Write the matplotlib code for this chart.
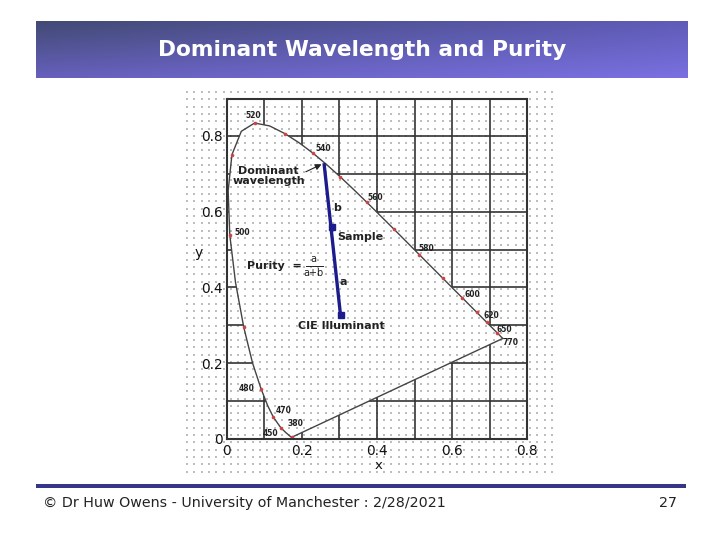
import numpy as np
import matplotlib
matplotlib.use('Agg')
import matplotlib.pyplot as plt
from matplotlib.colors import to_rgb
from matplotlib.patches import Polygon

# ---------------- data ----------------
# CIE 1931 spectral locus as drawn (wavelength nm, x, y)
locus_nm = [380, 420, 440, 450, 460, 470, 475, 480, 485, 490, 495, 500, 505,
            510, 515, 520, 525, 530, 535, 540, 545, 550, 555, 560, 565, 570,
            575, 580, 585, 590, 595, 600, 610, 620, 630, 640, 650, 700]
locus_x = [0.1741, 0.1714, 0.1644, 0.1566, 0.1440, 0.1241, 0.1096, 0.0913,
           0.0687, 0.0454, 0.0235, 0.0082, 0.0039, 0.0139, 0.0389, 0.0743,
           0.1142, 0.1547, 0.1929, 0.2296, 0.2658, 0.3016, 0.3373, 0.3731,
           0.4087, 0.4441, 0.4788, 0.5125, 0.5448, 0.5752, 0.6029, 0.6270,
           0.6658, 0.6915, 0.7079, 0.7190, 0.7260, 0.7347]
locus_y = [0.0050, 0.0051, 0.0109, 0.0177, 0.0297, 0.0578, 0.0868, 0.1327,
           0.2007, 0.2950, 0.4127, 0.5384, 0.6548, 0.7502, 0.8120, 0.8338,
           0.8262, 0.8059, 0.7816, 0.7543, 0.7243, 0.6923, 0.6589, 0.6245,
           0.5896, 0.5547, 0.5202, 0.4866, 0.4544, 0.4242, 0.3965, 0.3725,
           0.3340, 0.3083, 0.2920, 0.2809, 0.2740, 0.2653]

# wavelengths carrying a small red tick mark
tick_nm = [380, 460, 470, 480, 490, 500, 510, 520, 530, 540, 550, 560, 570,
           580, 590, 600, 610, 620, 640]

# wavelength labels and where they sit
wl_labels = ['520', '540', '560', '580', '600', '620', '650', '770',
             '500', '480', '470', '450', '380']
wl_x = [0.071, 0.258, 0.395, 0.531, 0.655, 0.705, 0.740, 0.756,
        0.042, 0.053, 0.151, 0.116, 0.182]
wl_y = [0.853, 0.767, 0.637, 0.502, 0.381, 0.325, 0.290, 0.255,
        0.544, 0.132, 0.074, 0.015, 0.041]

# dominant wavelength point, sample, illuminant
dom_xy = (0.259, 0.728)
sample_xy = (0.279, 0.559)
illum_xy = (0.303, 0.326)

x_ticks = [0, 0.2, 0.4, 0.6, 0.8]
x_tick_labels = ['0', '0.2', '0.4', '0.6', '0.8']
y_ticks = [0, 0.2, 0.4, 0.6, 0.8]
y_tick_labels = ['0', '0.2', '0.4', '0.6', '0.8']
grid_vals_x = [0.1, 0.2, 0.3, 0.4, 0.5, 0.6, 0.7]
grid_vals_y = [0.1, 0.2, 0.3, 0.4, 0.5, 0.6, 0.7, 0.8]

title = 'Dominant Wavelength and Purity'
footer = '\u00a9 Dr Huw Owens - University of Manchester : 2/28/2021'
page = '27'

# ---------------- figure ----------------
W, H = 720, 540
fig = plt.figure(figsize=(7.2, 5.4), dpi=100)
fig.patch.set_facecolor('white')

def fx(px):
    return px / W

def fy(py):
    return 1 - py / H

# dotted background texture of the scanned picture (behind the chart)
bax = fig.add_axes([0, 0, 1, 1], zorder=0)
bax.set_xlim(0, W)
bax.set_ylim(H, 0)
bax.axis('off')
dx = np.arange(187, 559, 7.3)
dy = np.arange(92, 478, 7.3)
DX, DY = np.meshgrid(dx, dy)
dot_kw = dict(s=1.4, marker='s', color='#bdbdbd', linewidths=0)
bax.scatter(DX.ravel(), DY.ravel(), **dot_kw)

# title bar with bilinear gradient
tl, tr, bl, br = [np.array(to_rgb(c)) for c in ('#424a74', '#5f5cb8', '#6660bc', '#7a70e0')]
u = np.linspace(0, 1, 200)[None, :, None]
v = np.linspace(0, 1, 40)[:, None, None]
grad = (1 - u) * (1 - v) * tl + u * (1 - v) * tr + (1 - u) * v * bl + u * v * br
tax = fig.add_axes([fx(36), fy(77.7), fx(652), 56.7 / H], zorder=1)
tax.imshow(grad, aspect='auto', extent=(0, 1, 0, 1), interpolation='bilinear')
tax.axis('off')
fig.text(fx(362), fy(50), title, color='white', fontsize=15.7, fontweight='bold',
         ha='center', va='center', family='DejaVu Sans', zorder=5)

# footer line and texts
fax = fig.add_axes([fx(36), fy(488), fx(650), 4.5 / H], zorder=1)
fax.set_facecolor('#35358a')
fax.set_xticks([]); fax.set_yticks([])
for s in fax.spines.values():
    s.set_visible(False)
fig.text(fx(43), fy(503), footer, fontsize=10.3, color='#222222', ha='left', va='center',
         family='DejaVu Sans')
fig.text(fx(677), fy(503), page, fontsize=10.3, color='#222222', ha='right', va='center',
         family='DejaVu Sans')

# main chart axes
left, right, top, bottom = 226.7, 527.3, 98.7, 439.0
XMAX, YMAX = 0.8, 0.898
ax = fig.add_axes([fx(left), fy(bottom), fx(right - left), (bottom - top) / H], zorder=2)
ax.set_xlim(0, XMAX)
ax.set_ylim(0, YMAX)
ax.patch.set_alpha(0)

for g in grid_vals_x:
    ax.axvline(g, color='#333333', lw=1.2, zorder=1)
for g in grid_vals_y:
    ax.axhline(g, color='#333333', lw=1.2, zorder=1)

lx = np.array(locus_x)
ly = np.array(locus_y)
poly = Polygon(np.column_stack([lx, ly]), closed=True, facecolor='white',
               edgecolor='none', zorder=2)
ax.add_patch(poly)
# dots continue inside the horseshoe
ddx = (DX.ravel() - left) / (right - left) * XMAX
ddy = (bottom - DY.ravel()) / (bottom - top) * YMAX
sc = ax.scatter(ddx, ddy, zorder=2.5, **dot_kw)
sc.set_clip_path(poly)

ax.plot(lx, ly, color='#444444', lw=1.0, zorder=3)
ax.plot([lx[-1], lx[0]], [ly[-1], ly[0]], color='#444444', lw=1.0, zorder=3)

tick_idx = [locus_nm.index(n) for n in tick_nm]
ax.plot(lx[tick_idx], ly[tick_idx], ls='none', marker='o', ms=2.6,
        color='#cc4444', mec='none', zorder=4)

for t, x, y in zip(wl_labels, wl_x, wl_y):
    ax.text(x, y, t, fontsize=5.5, fontweight='bold', ha='center', va='center',
            color='#222222', zorder=5, family='DejaVu Sans Condensed')

# dominant wavelength line
ax.plot([dom_xy[0], illum_xy[0]], [dom_xy[1], illum_xy[1]], color='#1c1c8c',
        lw=2.4, zorder=5, solid_capstyle='butt')
ax.plot([sample_xy[0]], [sample_xy[1]], marker='s', ms=5, color='#1c1c8c', zorder=6)
ax.plot([illum_xy[0]], [illum_xy[1]], marker='s', ms=4, color='#1c1c8c', zorder=6)

ax.annotate('', xy=dom_xy, xytext=(0.204, 0.702),
            arrowprops=dict(arrowstyle='-|>', color='#222222', lw=0.8,
                            mutation_scale=9), zorder=6)

txt_kw = dict(fontsize=8, fontweight='bold', color='#222222', zorder=6,
              family='DejaVu Sans')
ax.text(0.112, 0.693, 'Dominant\nwavelength', ha='center', va='center',
        linespacing=1.0, **txt_kw)
ax.text(0.294, 0.609, 'b', ha='center', va='center', **txt_kw)
ax.text(0.293, 0.534, 'Sample', ha='left', va='center', **txt_kw)
ax.text(0.053, 0.457, 'Purity  =', ha='left', va='center', **txt_kw)
ax.text(0.232, 0.476, 'a', ha='center', va='center', fontsize=7, color='#222222',
        zorder=6)
ax.plot([0.21, 0.255], [0.457, 0.457], color='#222222', lw=0.7, zorder=6)
ax.text(0.232, 0.437, 'a+b', ha='center', va='center', fontsize=7, color='#222222',
        zorder=6)
ax.text(0.311, 0.413, 'a', ha='center', va='center', **txt_kw)
ax.text(0.306, 0.297, 'CIE Illuminant', ha='center', va='center', **txt_kw)

ax.set_xticks(x_ticks)
ax.set_xticklabels(x_tick_labels)
ax.set_yticks(y_ticks)
ax.set_yticklabels(y_tick_labels)
ax.tick_params(axis='x', length=0, pad=3.5, labelsize=9.8, labelcolor='#111111')
ax.tick_params(axis='y', length=0, pad=3, labelsize=9.8, labelcolor='#111111')
for s in ax.spines.values():
    s.set_color('#333333')
    s.set_linewidth(1.5)
    s.set_zorder(7)

fig.text(fx(198.3), fy(253), 'y', fontsize=10, ha='center', va='center', color='#111111')
fig.text(fx(378.3), fy(459), 'x', fontsize=9.5, ha='center', va='top', color='#111111')

fig.savefig('out.png', dpi=100)
